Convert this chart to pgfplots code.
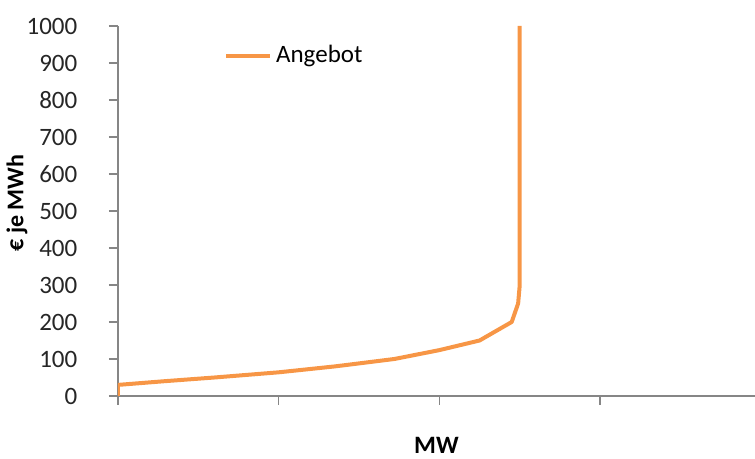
\documentclass[border=0pt]{standalone}
\usepackage{fontspec}
\setmainfont{Carlito}
\usepackage{pgfplots}
\pgfplotsset{compat=1.18}
\definecolor{ang}{RGB}{247,150,70}
\definecolor{axgray}{RGB}{134,134,134}
\begin{document}
\fontsize{12.5}{15}\selectfont
\begin{tikzpicture}
\begin{axis}[
  scale only axis, width=318.5pt, height=185pt,
  xmin=0, xmax=3.964, ymin=0, ymax=1000,
  axis x line=bottom, axis y line=left,
  axis line style={axgray, line width=0.8pt, -},
  xtick={0,1,2,3}, xticklabels={},
  ytick={0,100,...,1000},
  tick align=outside, major tick length=4.5pt,
  tick style={axgray, line width=0.8pt},
  /pgf/number format/assume math mode=true,
  /pgf/number format/1000 sep={},
  yticklabel style={font=\fontsize{12.5}{15}\selectfont, text=black!85, xshift=-11.5pt},
  xlabel={\textbf{MW}}, ylabel={\textbf{€ je MWh}},
  xlabel style={at={(axis description cs:0.5,0)}, anchor=base, inner sep=0pt, yshift=-29pt, font=\fontsize{12.5}{15}\selectfont},
  ylabel style={at={(axis description cs:-0.1586,0.522)}, anchor=center, font=\fontsize{12}{15}\selectfont},
  legend style={at={(axis description cs:0.166,0.919)}, anchor=west, draw=none, fill=none, inner sep=0pt, font=\fontsize{12.5}{15}\selectfont},
  legend image code/.code={\draw[#1] (0pt,0pt) -- (22pt,0pt);},
]
\addplot[ang, line width=2pt, line join=round] coordinates {
  (0,0) (0,30) (0.29,40) (0.6,50) (1.0,64) (1.35,80) (1.72,100)
  (2.0,124) (2.25,150) (2.45,200) (2.49,250) (2.50,300) (2.50,1000)
};
\addlegendentry{Angebot}
\coordinate (bl) at (rel axis cs:0,0);
\coordinate (tr) at (rel axis cs:1,1);
\end{axis}
\pgfresetboundingbox
\path ([xshift=-59pt,yshift=-31.5pt]bl) rectangle ([yshift=13pt]tr);
\end{tikzpicture}
\end{document}
